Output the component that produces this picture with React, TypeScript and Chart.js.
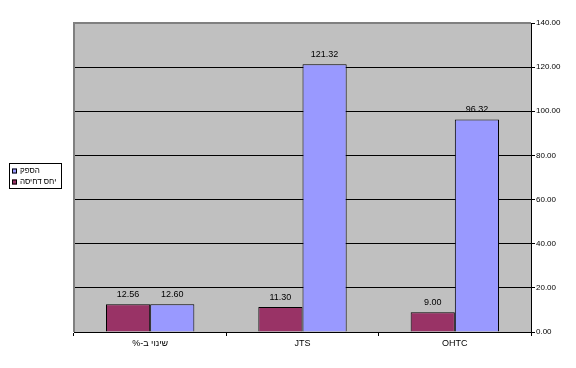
import React, { useEffect, useRef } from "react";
import { Chart, registerables } from "chart.js";

Chart.register(...registerables);

const categories = ["\u200Fשינוי ב-%\u200F", "JTS", "OHTC"];
const seriesNames = ["יחס דחיסה", "הספק"];
const compressionValues = [12.56, 11.3, 9.0];
const powerValues = [12.6, 121.32, 96.32];
const seriesColors = ["#993366", "#9999FF"];
const yTicks = [0, 20, 40, 60, 80, 100, 120, 140];

const FONT = "Arial, 'Liberation Sans', sans-serif";

const customPlugin = {
  id: "custom",
  beforeDraw(chart: any) {
    const { ctx, chartArea } = chart;
    ctx.save();
    ctx.fillStyle = "#ffffff";
    ctx.fillRect(0, 0, chart.width, chart.height);
    ctx.fillStyle = "#C0C0C0";
    ctx.fillRect(chartArea.left, chartArea.top, chartArea.right - chartArea.left, chartArea.bottom - chartArea.top);
    ctx.restore();
  },
  afterDatasetsDraw(chart: any) {
    const { ctx, chartArea } = chart;
    ctx.save();
    ctx.strokeStyle = "#808080";
    ctx.lineWidth = 2;
    ctx.beginPath();
    ctx.moveTo(chartArea.left, chartArea.bottom);
    ctx.lineTo(chartArea.left, chartArea.top);
    ctx.lineTo(chartArea.right, chartArea.top);
    ctx.stroke();

    ctx.fillStyle = "#000000";
    ctx.font = `9px ${FONT}`;
    ctx.textAlign = "center";
    ctx.textBaseline = "middle";
    chart.data.datasets.forEach((ds: any, di: number) => {
      const meta = chart.getDatasetMeta(di);
      meta.data.forEach((bar: any, i: number) => {
        ctx.fillText(Number(ds.data[i]).toFixed(2), bar.x, bar.y - 10);
      });
    });

    const lx = 9, ly = 163, lw = 52, lh = 25;
    ctx.fillStyle = "#ffffff";
    ctx.fillRect(lx, ly, lw, lh);
    ctx.strokeStyle = "#000000";
    ctx.lineWidth = 1;
    ctx.strokeRect(lx + 0.5, ly + 0.5, lw, lh);
    const items = [1, 0];
    items.forEach((di, k) => {
      const ds = chart.data.datasets[di];
      const y = ly + 8 + k * 11;
      ctx.fillStyle = ds.backgroundColor;
      ctx.fillRect(lx + 3, y - 2.5, 5, 5);
      ctx.strokeStyle = "#000000";
      ctx.strokeRect(lx + 3.5, y - 2, 4, 4);
      ctx.fillStyle = "#000000";
      ctx.font = `8px ${FONT}`;
      ctx.textAlign = "left";
      ctx.textBaseline = "middle";
      ctx.fillText(ds.label, lx + 11, y);
    });
    ctx.restore();
  },
};

export default function App() {
  const ref = useRef<HTMLCanvasElement | null>(null);
  useEffect(() => {
    document.body.style.margin = "0";
    const chart = new Chart(ref.current as HTMLCanvasElement, {
      type: "bar",
      data: {
        labels: categories,
        datasets: [
          {
            label: seriesNames[0],
            data: compressionValues,
            backgroundColor: seriesColors[0],
            borderColor: "#000000",
            borderWidth: 1,
            categoryPercentage: 0.58,
            barPercentage: 1,
          },
          {
            label: seriesNames[1],
            data: powerValues,
            backgroundColor: seriesColors[1],
            borderColor: "#000000",
            borderWidth: 1,
            categoryPercentage: 0.58,
            barPercentage: 1,
          },
        ],
      },
      options: {
        animation: false,
        responsive: false,
        devicePixelRatio: 1,
        layout: { padding: { left: 74, top: 23, right: 0, bottom: 0 } },
        plugins: { legend: { display: false }, tooltip: { enabled: false } },
        scales: {
          x: {
            offset: true,
            grid: { offset: true, drawOnChartArea: false, drawTicks: true, tickLength: 4, color: "#000000" },
            border: { display: true, color: "#000000", width: 1 },
            ticks: { color: "#000000", font: { family: FONT, size: 9 }, padding: 2, maxRotation: 0 },
            afterFit: (s: any) => { s.height = 36; },
          },
          y: {
            position: "right",
            min: 0,
            max: 140,
            afterBuildTicks: (s: any) => { s.ticks = yTicks.map((v) => ({ value: v })); },
            grid: { color: "#000000", drawTicks: true, tickLength: 4, lineWidth: 1 },
            border: { display: true, color: "#000000", width: 1 },
            ticks: {
              color: "#000000",
              font: { family: FONT, size: 8 },
              padding: 1,
              callback: (v: any) => Number(v).toFixed(2),
            },
            afterFit: (s: any) => { s.width = 45; },
          },
        },
      },
      plugins: [customPlugin],
    });
    return () => chart.destroy();
  }, []);
  return (
    <div style={{ position: "absolute", left: 0, top: 0, width: 576, height: 368 }}>
      <canvas ref={ref} width={576} height={368} style={{ width: 576, height: 368 }} />
    </div>
  );
}
